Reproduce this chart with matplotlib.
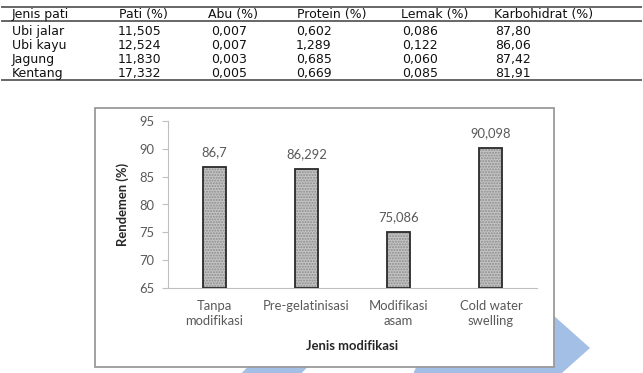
import matplotlib
matplotlib.use("Agg")
import matplotlib.pyplot as plt
from matplotlib.patches import Polygon, Rectangle
from matplotlib.lines import Line2D

# ---- data ----
table_header = ["Jenis pati", "Pati (%)", "Abu (%)", "Protein (%)", "Lemak (%)", "Karbohidrat (%)"]
jenis_pati = ["Ubi jalar", "Ubi kayu", "Jagung", "Kentang"]
pati = ["11,505", "12,524", "11,830", "17,332"]
abu = ["0,007", "0,007", "0,003", "0,005"]
protein = ["0,602", "1,289", "0,685", "0,669"]
lemak = ["0,086", "0,122", "0,060", "0,085"]
karbohidrat = ["87,80", "86,06", "87,42", "81,91"]

categories = ["Tanpa\nmodifikasi", "Pre-gelatinisasi", "Modifikasi\nasam", "Cold water\nswelling"]
rendemen = [86.7, 86.292, 75.086, 90.098]
value_labels = ["86,7", "86,292", "75,086", "90,098"]
y_ticks = [65, 70, 75, 80, 85, 90, 95]
x_title = "Jenis modifikasi"
y_title = "Rendemen (%)"

W, H = 643, 373
fig = plt.figure(figsize=(W / 100, H / 100), dpi=100)

# overlay axes in pixel coordinates (y down)
ov = fig.add_axes([0, 0, 1, 1], zorder=0)
ov.set_xlim(0, W)
ov.set_ylim(H, 0)
ov.axis("off")

blue = "#a4bfe6"
# background chevrons
ov.add_patch(Polygon([(380, 250), (480, 250), (590, 348), (480, 446), (380, 446), (425, 348)],
                     closed=True, facecolor=blue, edgecolor="none", zorder=1))
ov.add_patch(Polygon([(200, 280), (260, 280), (326, 348), (260, 416), (200, 416), (266, 348)],
                     closed=True, facecolor=blue, edgecolor="none", zorder=1))

# chart box
ov.add_patch(Rectangle((95, 108), 554 - 95, 367 - 108, facecolor="white",
                       edgecolor="#9a9a9a", linewidth=1.3, zorder=2))

# table
tfont = dict(family="DejaVu Sans", fontsize=9.0, color="#111111", va="center", ha="left")
for yl in (6.5, 21, 80):
    ov.add_line(Line2D([2, 641], [yl, yl], color="#666666", linewidth=1.4, zorder=3))
head_x = [12, 119, 208, 297, 401, 494]
col_x = [12, 118, 211, 296, 402, 495]
row_y = [31, 45.5, 60, 74]
for x, h in zip(head_x, table_header):
    ov.text(x, 14.5, h, **tfont)
columns = [jenis_pati, pati, abu, protein, lemak, karbohidrat]
for x, col in zip(col_x, columns):
    for y, v in zip(row_y, col):
        ov.text(x, y, v, **tfont)

# ---- bar chart ----
fs = 9.4
ax = fig.add_axes([168 / W, 1 - 288 / H, (537 - 168) / W, (288 - 121) / H], zorder=3)
ax.patch.set_alpha(0)
xs = list(range(len(categories)))
ax.bar(xs, [r - 65 for r in rendemen], bottom=65, width=0.25, color="#c4c4c4",
       edgecolor="#8c8c8c", hatch="......", linewidth=0, zorder=2)
ax.bar(xs, [r - 65 for r in rendemen], bottom=65, width=0.25, fill=False,
       edgecolor="#2a2a2a", linewidth=1.3, zorder=3)
ax.set_xlim(-0.5, len(categories) - 0.5)
ax.set_ylim(65, 95)
ax.set_yticks(y_ticks)
ax.set_xticks(xs)
ax.set_xticklabels(categories, fontsize=fs, color="#595959", family="Lato", linespacing=1.25)
ax.tick_params(axis="x", length=0, pad=9)
ax.tick_params(axis="y", length=4, color="#bfbfbf", labelcolor="#595959", labelsize=fs, pad=6)
for lab in ax.get_yticklabels():
    lab.set_family("Lato")
for s in ("top", "right"):
    ax.spines[s].set_visible(False)
ax.spines["left"].set_color("#bfbfbf")
ax.spines["bottom"].set_color("#bfbfbf")
for x, r, t in zip(xs, rendemen, value_labels):
    ax.annotate(t, (x, r), xytext=(0, 6.5), textcoords="offset points", ha="center",
                va="bottom", fontsize=fs, color="#595959", family="Lato")
ax.set_xlabel(x_title, fontsize=fs, fontweight="bold", family="Lato", color="#262626", labelpad=9)
ax.set_ylabel(y_title, fontsize=fs, fontweight="bold", family="Lato", color="#262626", labelpad=7)

fig.savefig("out.png", dpi=100)
